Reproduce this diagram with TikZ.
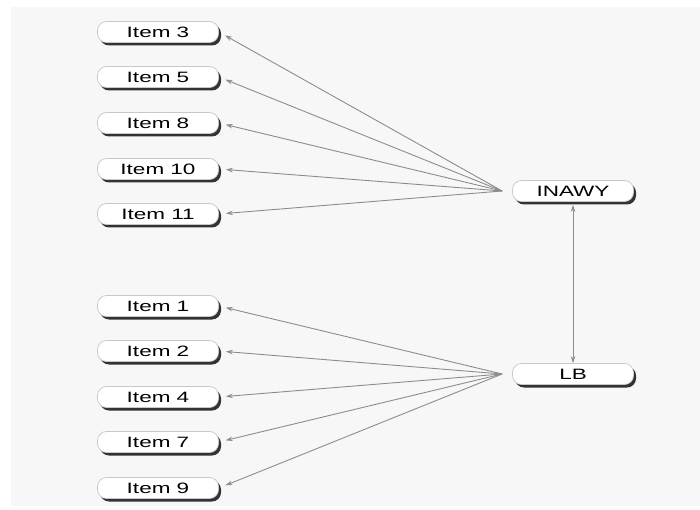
\documentclass[tikz,border=0pt]{standalone}
\usepackage{fontspec}
\setmainfont{Liberation Sans}
\newfontfamily\boxfont[FakeStretch=1.5]{Liberation Sans}
\usetikzlibrary{shadows,arrows.meta}

\tikzset{every picture/.style={line width=0.75pt}}
\tikzset{
  pill/.style={draw={rgb,255:red,200;green,200;blue,200}, fill=white, rounded corners=9pt,
    minimum width=121pt, minimum height=21pt, inner sep=0pt,
    font=\boxfont\fontsize{15}{17}\selectfont,
    drop shadow={shadow xshift=2.5pt, shadow yshift=-3pt, fill=black!80, opacity=1}},
  link/.style={draw={rgb,255:red,140;green,140;blue,140}, line width=0.9pt,
    -{Stealth[length=7pt,width=4.5pt]}, shorten >=7pt},
}

\begin{document}
\begin{tikzpicture}[x=1pt,y=1pt,yscale=-1,xscale=1]
	\useasboundingbox (0,0) rectangle (700,510);
	%Shape: Rectangle [background panel]
	\fill [fill={rgb, 255:red, 247; green, 247; blue, 247 }] (11,7) rectangle (700,506);

	% Upper group
	\node [pill] (item3) at (158,32) {Item 3};
	\node [pill] (item5) at (158,77) {Item 5};
	\node [pill] (item8) at (158,123) {Item 8};
	\node [pill] (item10) at (158,169) {Item 10};
	\node [pill] (item11) at (158,214) {Item 11};
	% Lower group
	\node [pill] (item1) at (158,306) {Item 1};
	\node [pill] (item2) at (158,351) {Item 2};
	\node [pill] (item4) at (158,397) {Item 4};
	\node [pill] (item7) at (158,442) {Item 7};
	\node [pill] (item9) at (158,488) {Item 9};
	% Right hand nodes
	\node [pill] (inawy) at (573,191) {INAWY};
	\node [pill] (lb) at (573,374) {LB};

	\coordinate (hubA) at ([xshift=-10pt]inawy.west);
	\coordinate (hubB) at ([xshift=-10pt]lb.west);

	%Straight Lines [fan from INAWY]
	\draw [link] (hubA) -- (item3.east);
	\draw [link] (hubA) -- (item5.east);
	\draw [link] (hubA) -- (item8.east);
	\draw [link] (hubA) -- (item10.east);
	\draw [link] (hubA) -- (item11.east);
	%Straight Lines [fan from LB]
	\draw [link] (hubB) -- (item1.east);
	\draw [link] (hubB) -- (item2.east);
	\draw [link] (hubB) -- (item4.east);
	\draw [link] (hubB) -- (item7.east);
	\draw [link] (hubB) -- (item9.east);
	%Straight Lines [INAWY to LB]
	\draw [link, shorten >=0pt, {Stealth[length=7pt,width=4.5pt]}-{Stealth[length=7pt,width=4.5pt]}] ([yshift=3pt]inawy.south) -- (lb.north);

\end{tikzpicture}
\end{document}
